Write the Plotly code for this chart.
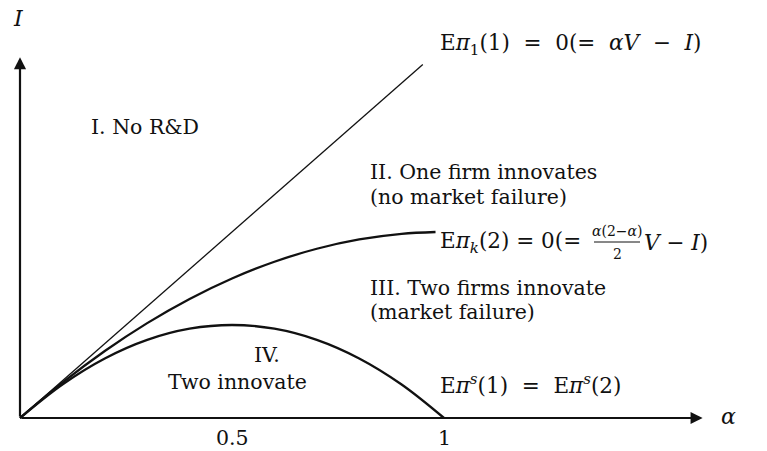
import plotly.graph_objects as go

# Innovation regions in the (alpha, I) plane; I is measured in units of V.
alpha_line = [0.0, 0.95]
invest_line = [0.0, 0.95]          # E pi_1(1) = 0  (I = alpha V)

alpha_k2 = [0.0, 0.1, 0.2, 0.3, 0.4, 0.5, 0.6, 0.7, 0.8, 0.9, 0.98]
invest_k2 = [0.0, 0.095, 0.18, 0.255, 0.32, 0.375, 0.42, 0.455, 0.48, 0.495, 0.5]

alpha_s = [0.0, 0.1, 0.2, 0.3, 0.4, 0.5, 0.6, 0.7, 0.8, 0.9, 1.0]
invest_s = [0.0, 0.09, 0.16, 0.21, 0.24, 0.25, 0.24, 0.21, 0.16, 0.09, 0.0]

tick_vals = [0.5, 1.0]
tick_text = ["0.5", "1"]

W, H = 767, 451
X0, Y0 = 20, 418          # pixel position of the origin
PX_X, PX_Y = 424, 372     # pixels per unit along each axis

x_range = [-X0 / PX_X, (W - X0) / PX_X]
y_range = [-(H - Y0) / PX_Y, Y0 / PX_Y]

FONT = "DejaVu Serif"
INK = "#111111"
FS = 20.5        # prose labels
FM = 21.5        # formula labels
SP = "&nbsp;"
SP2 = "&nbsp;&nbsp;"


def px(x, y):
    return x / W, 1 - y / H


fig = go.Figure()
fig.add_trace(go.Scatter(x=alpha_line, y=invest_line, mode="lines",
                         line=dict(color=INK, width=1.3), hoverinfo="skip"))
fig.add_trace(go.Scatter(x=alpha_k2, y=invest_k2, mode="lines", line_shape="spline",
                         line=dict(color=INK, width=2.3), hoverinfo="skip"))
fig.add_trace(go.Scatter(x=alpha_s, y=invest_s, mode="lines", line_shape="spline",
                         line=dict(color=INK, width=2.3), hoverinfo="skip"))

annotations = []

# axes drawn as arrows
annotations.append(dict(x=1.61, y=0, ax=0, ay=0, xref="x", yref="y", axref="x", ayref="y",
                        text="", showarrow=True, arrowhead=2, arrowsize=1.1,
                        arrowwidth=2.2, arrowcolor=INK))
annotations.append(dict(x=0, y=0.97, ax=0, ay=0, xref="x", yref="y", axref="x", ayref="y",
                        text="", showarrow=True, arrowhead=2, arrowsize=1.1,
                        arrowwidth=2.2, arrowcolor=INK))

# tick labels
for v, t in zip(tick_vals, tick_text):
    annotations.append(dict(x=v, y=-0.055, xref="x", yref="y", text=t, showarrow=False,
                            font=dict(family=FONT, size=FS, color=INK)))


def label(text, x, y, size=FS, anchor="left"):
    xp, yp = px(x, y)
    annotations.append(dict(x=xp, y=yp, xref="paper", yref="paper", text=text,
                            showarrow=False, xanchor=anchor, yanchor="middle",
                            font=dict(family=FONT, size=size, color=INK)))


label("<i>I</i>", 18, 19, size=22, anchor="center")
label("<i>α</i>", 728, 416, size=22, anchor="center")

label("E<i>π</i><sub>1</sub>(1)" + SP2 + "=" + SP2 + "0(=" + SP2 + "<i>αV</i>" + SP2 + "−"
      + SP2 + "<i>I</i>)", 438, 45, size=FM)
label("I. No R&amp;D", 89, 127)
label("II. One firm innovates", 368, 172)
label("(no market failure)", 368, 197)

label("E<i>π<sub>k</sub></i>(2)" + SP + "=" + SP + "0(=", 438, 242, size=FM)
label("<i>α</i>(2−<i>α</i>)", 617, 231, size=14, anchor="center")
label("2", 617, 254, size=14, anchor="center")
label("<i>V</i>" + SP + "−" + SP + "<i>I</i>)", 642, 242, size=FM)

label("III. Two firms innovate", 368, 288)
label("(market failure)", 368, 312)
label("IV.", 267, 355, anchor="center")
label("Two innovate", 237, 382, anchor="center")
label("E<i>π<sup>s</sup></i>(1)" + SP2 + "=" + SP2 + "E<i>π<sup>s</sup></i>(2)", 438, 384, size=FM)

# fraction bar
fx0, fy = px(594, 242)
fx1, _ = px(640, 242)
shapes = [dict(type="line", xref="paper", yref="paper", x0=fx0, x1=fx1, y0=fy, y1=fy,
               line=dict(color=INK, width=1))]

fig.update_layout(
    width=W, height=H,
    margin=dict(l=0, r=0, t=0, b=0),
    paper_bgcolor="white", plot_bgcolor="white",
    showlegend=False,
    xaxis=dict(range=x_range, visible=False, fixedrange=True),
    yaxis=dict(range=y_range, visible=False, fixedrange=True),
    annotations=annotations,
    shapes=shapes,
)

fig.write_html("out.html")
